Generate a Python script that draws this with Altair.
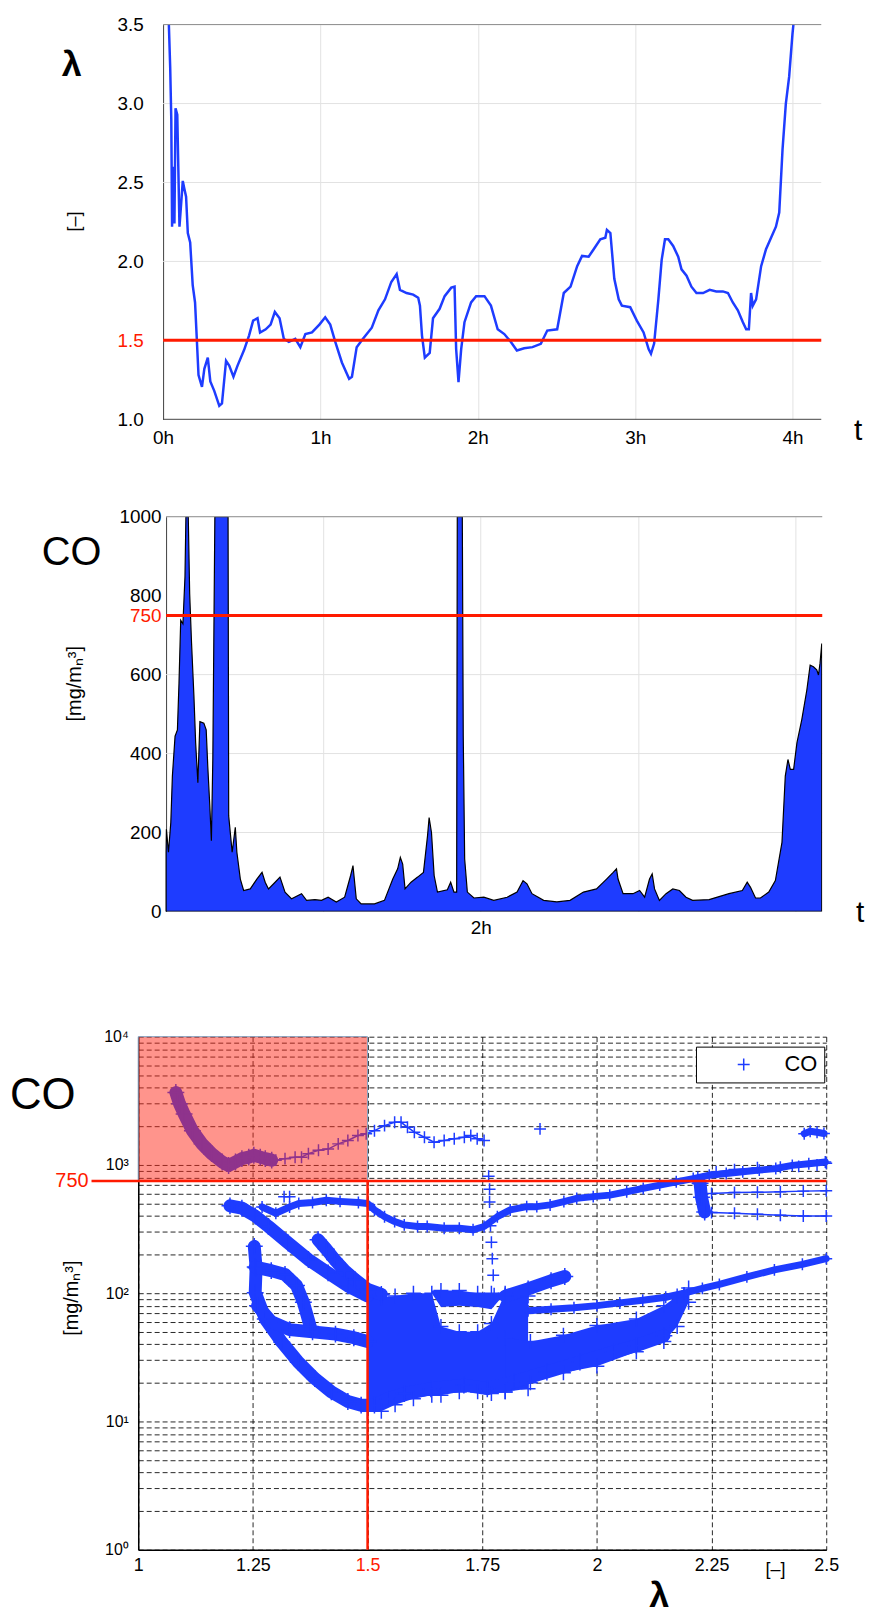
import altair as alt
import pandas as pd

FONT = "Liberation Sans Narrow, Liberation Sans, Arial, sans-serif"
BLUE = "#1e3cff"
RED = "#ff1a00"
GRIDGREY = "#e2e2e2"
PLUS = "M-1,0L1,0M0,-1L0,1"

# ---------------- Panel 1: lambda over time ----------------
T_LAMBDA = [0.035, 0.045, 0.052, 0.057, 0.065, 0.072, 0.079, 0.09, 0.104, 0.115, 0.125, 0.135, 0.146, 0.157,
            0.172, 0.188, 0.203, 0.214, 0.225, 0.247, 0.262, 0.284, 0.30, 0.325, 0.357, 0.374, 0.40, 0.42,
            0.447, 0.473, 0.515, 0.546, 0.572, 0.60, 0.616, 0.652, 0.683, 0.71, 0.74, 0.767, 0.799, 0.84,
            0.872, 0.904, 0.946, 0.993, 1.03, 1.062, 1.094, 1.136, 1.182, 1.20, 1.23, 1.27, 1.326, 1.368,
            1.41, 1.45, 1.484, 1.505, 1.547, 1.589, 1.621, 1.632, 1.645, 1.663, 1.694, 1.715, 1.757, 1.789,
            1.831, 1.852, 1.862, 1.877, 1.894, 1.915, 1.957, 1.989, 2.042, 2.083, 2.126, 2.168, 2.21, 2.248,
            2.294, 2.347, 2.40, 2.441, 2.504, 2.546, 2.589, 2.631, 2.662, 2.704, 2.736, 2.778, 2.81, 2.82,
            2.842, 2.867, 2.895, 2.915, 2.968, 3.01, 3.053, 3.085, 3.10, 3.12, 3.147, 3.168, 3.189, 3.21,
            3.241, 3.273, 3.294, 3.326, 3.357, 3.389, 3.431, 3.473, 3.515, 3.557, 3.589, 3.62, 3.652, 3.684,
            3.705, 3.722, 3.736, 3.747, 3.768, 3.80, 3.831, 3.863, 3.894, 3.915, 3.936, 3.957, 3.978, 3.999,
            4.01]
LAMBDA = [3.55, 3.23, 2.9, 2.22, 2.6, 2.24, 2.97, 2.93, 2.22, 2.37, 2.51, 2.46, 2.41, 2.18,
          2.12, 1.85, 1.74, 1.51, 1.28, 1.205, 1.32, 1.39, 1.24, 1.18, 1.085, 1.10, 1.37, 1.34,
          1.27, 1.34, 1.44, 1.53, 1.625, 1.64, 1.55, 1.57, 1.60, 1.68, 1.64, 1.51, 1.49, 1.51,
          1.457, 1.54, 1.55, 1.60, 1.646, 1.60, 1.49, 1.36, 1.257, 1.27, 1.457, 1.51, 1.58, 1.69,
          1.76, 1.87, 1.92, 1.82, 1.80, 1.79, 1.77, 1.72, 1.53, 1.39, 1.42, 1.64, 1.70, 1.78,
          1.834, 1.84, 1.445, 1.236, 1.445, 1.615, 1.74, 1.78, 1.78, 1.72, 1.57, 1.54, 1.49, 1.436,
          1.45, 1.457, 1.478, 1.562, 1.57, 1.80, 1.84, 1.97, 2.035, 2.03, 2.077, 2.14, 2.15, 2.20,
          2.18, 1.89, 1.76, 1.72, 1.71, 1.625, 1.55, 1.445, 1.415, 1.48, 1.76, 2.01, 2.14, 2.14,
          2.098, 2.03, 1.95, 1.91, 1.84, 1.80, 1.80, 1.82, 1.81, 1.81, 1.80, 1.74, 1.69, 1.615,
          1.57, 1.57, 1.80, 1.72, 1.76, 1.97, 2.077, 2.15, 2.22, 2.31, 2.71, 3.0, 3.17, 3.44,
          3.55]
LAMBDA_LIMIT = [1.5]
LAMBDA_TICKS = [1.0, 1.5, 2.0, 2.5, 3.0, 3.5]
LAMBDA_RANGE = [1.0, 3.5]
HOUR_TICKS = [0, 1, 2, 3, 4]
T1_RANGE = [-0.158, 4.182]

# ---------------- Panel 2: CO over time ----------------
T_CO = [0.0, 0.002, 0.015, 0.03, 0.04, 0.057, 0.072, 0.082, 0.093, 0.107, 0.12, 0.126, 0.141, 0.15, 0.162,
        0.177, 0.188, 0.202, 0.215, 0.24, 0.255, 0.265, 0.278, 0.288, 0.297, 0.31, 0.394, 0.398, 0.42,
        0.44, 0.45, 0.472, 0.493, 0.535, 0.577, 0.61, 0.63, 0.651, 0.693, 0.724, 0.756, 0.798, 0.861,
        0.893, 0.946, 0.988, 1.03, 1.082, 1.135, 1.173, 1.188, 1.209, 1.24, 1.325, 1.388, 1.441, 1.472,
        1.489, 1.504, 1.519, 1.557, 1.599, 1.636, 1.662, 1.672, 1.687, 1.704, 1.725, 1.788, 1.809, 1.83,
        1.847, 1.851, 1.883, 1.889, 1.898, 1.915, 1.957, 2.02, 2.083, 2.168, 2.231, 2.269, 2.294, 2.326,
        2.4, 2.484, 2.568, 2.653, 2.736, 2.8, 2.842, 2.863, 2.873, 2.905, 2.968, 3.01, 3.042, 3.073,
        3.09, 3.105, 3.136, 3.178, 3.221, 3.263, 3.305, 3.347, 3.452, 3.578, 3.663, 3.694, 3.715, 3.747,
        3.778, 3.831, 3.873, 3.915, 3.936, 3.953, 3.968, 3.989, 4.01, 4.041, 4.073, 4.094, 4.115, 4.136,
        4.147, 4.157, 4.168]
CO_T = [150, 208, 150, 225, 343, 444, 460, 578, 738, 729, 847, 1000, 1000, 805, 679,
        545, 427, 326, 481, 477, 460, 368, 267, 179, 385, 1000, 1000, 242, 150,
        213, 150, 82, 53, 57, 82, 99, 74, 57, 74, 87, 49, 32, 45,
        28, 30, 28, 36, 24, 36, 91, 116, 32, 19, 19, 28, 82, 108,
        137, 120, 57, 74, 87, 99, 192, 238, 200, 91, 49, 55, 74, 49,
        49, 1000, 1000, 444, 133, 49, 34, 36, 28, 36, 49, 78, 70, 45,
        28, 24, 28, 49, 57, 82, 99, 108, 82, 45, 45, 53, 36, 82,
        95, 57, 28, 45, 57, 53, 36, 28, 30, 45, 53, 74, 61, 34,
        34, 49, 78, 175, 343, 385, 360, 360, 427, 486, 561, 624, 620, 612,
        599, 629, 679]
CO_LIMIT = [750]
CO_TICKS = [0, 200, 400, 600, 750, 800, 1000]
CO_GRID = [200, 400, 600]
CO_RANGE = [0, 1000]
T2_RANGE = [-0.177, 4.171]

# ---------------- Panel 3: CO vs lambda (bands of + markers) ----------------
PURPLE_BAND = [(1.082, 3670), (1.09, 3000), (1.10, 2500), (1.118, 1850), (1.139, 1460), (1.16, 1225),
               (1.183, 1055), (1.197, 990), (1.212, 1055), (1.226, 1120), (1.241, 1150), (1.252, 1190),
               (1.266, 1150), (1.277, 1120), (1.291, 1090)]
LEFT_DIAG = [(1.20, 480), (1.226, 460), (1.255, 400), (1.284, 331), (1.327, 246), (1.371, 183),
             (1.414, 144), (1.457, 114), (1.50, 95)]
SECOND_DIAG = [(1.392, 261), (1.41, 220), (1.428, 183), (1.45, 150), (1.472, 128), (1.50, 107), (1.53, 98)]
OUTER_LOOP = [(1.253, 232), (1.257, 158), (1.255, 101), (1.277, 63), (1.313, 41.5), (1.349, 29),
              (1.385, 21.6), (1.421, 17), (1.457, 14.3), (1.486, 13.4), (1.515, 13.4), (1.544, 15),
              (1.58, 16.5), (1.638, 18), (1.71, 19.2), (1.761, 18), (1.819, 20.4), (1.891, 24.3),
              (1.963, 29), (2.035, 34.7), (2.086, 39), (2.146, 46.5)]
INNER_LOOP = [(1.26, 80), (1.29, 60), (1.33, 52), (1.38, 50), (1.43, 48), (1.47, 45), (1.50, 42)]
LOOP_TOP = [(1.255, 160), (1.29, 150), (1.32, 140), (1.345, 115), (1.36, 85), (1.375, 55)]
ARM = [(1.80, 95), (1.85, 108), (1.90, 125), (1.93, 135)]
RIGHT_CLUSTER = [(2.225, 720), (2.228, 560), (2.235, 430)]

MID_ROW = [(1.27, 470), (1.30, 420), (1.33, 470), (1.35, 500), (1.38, 510), (1.41, 530), (1.44, 520),
           (1.48, 510), (1.50, 500), (1.515, 446), (1.537, 395), (1.559, 362), (1.58, 341), (1.609, 331),
           (1.63, 331), (1.667, 321), (1.70, 321), (1.73, 312), (1.754, 331), (1.783, 395), (1.811, 446),
           (1.847, 473), (1.869, 473), (1.898, 488), (1.928, 518), (1.956, 549), (1.992, 566), (2.028, 582),
           (2.065, 618), (2.101, 656), (2.137, 697), (2.173, 739), (2.21, 783), (2.245, 832), (2.282, 857),
           (2.318, 883), (2.354, 911), (2.39, 938), (2.426, 993), (2.462, 1023), (2.498, 1055)]
FLAT_ROW = [(1.85, 73), (1.90, 75), (1.95, 77), (2.00, 80), (2.05, 84), (2.10, 88), (2.15, 93), (2.19, 100)]
RISING_ROW = [(2.19, 100), (2.23, 109), (2.267, 117), (2.327, 134), (2.387, 152), (2.448, 168), (2.5, 186)]
TOP_RIGHT_CLUSTER = [(2.452, 1750), (2.465, 1830), (2.48, 1800), (2.495, 1760)]

UPPER_ROW = [(1.30, 1090), (1.32, 1120), (1.342, 1150), (1.356, 1150), (1.371, 1225), (1.393, 1300),
             (1.414, 1330), (1.436, 1460), (1.457, 1550), (1.479, 1695), (1.497, 1750), (1.515, 1850),
             (1.537, 2025), (1.559, 2150), (1.573, 2150), (1.587, 1970), (1.602, 1800), (1.624, 1645),
             (1.645, 1505), (1.667, 1550), (1.689, 1600), (1.711, 1645), (1.725, 1695), (1.739, 1600),
             (1.754, 1550)]
BRANCH_HIGH = [(2.25, 600), (2.30, 610), (2.35, 612), (2.40, 618), (2.45, 625), (2.5, 630)]
BRANCH_LOW = [(2.25, 425), (2.30, 420), (2.35, 412), (2.40, 405), (2.45, 400), (2.5, 400)]
TOP_RIGHT_ROW = [(2.22, 800), (2.26, 880), (2.30, 920), (2.35, 950), (2.40, 960), (2.44, 975),
                 (2.48, 1000), (2.5, 1030)]
STRAY = [(1.876, 1910), (1.318, 566), (1.33, 566), (1.764, 818), (1.766, 646), (1.766, 515),
         (1.768, 336), (1.770, 250), (1.772, 186), (1.774, 138), (1.776, 99)]

BLOB_LAM = [1.50, 1.53, 1.56, 1.60, 1.64, 1.66, 1.70, 1.74, 1.77, 1.80, 1.85]
BLOB_LOW = [12, 12, 13.5, 15, 16, 16, 17, 17, 16.5, 17, 18]
BLOB_HIGH = [100, 92, 95, 100, 100, 55, 50, 50, 58, 100, 95]
CAP_LAM = [1.64, 1.66, 1.70, 1.74, 1.77, 1.80]
CAP_LOW = [100, 78, 80, 78, 75, 100]
CAP_HIGH = [105, 105, 105, 100, 100, 100]
LR_LAM = [1.80, 1.855, 1.927, 2.00, 2.086, 2.146, 2.175, 2.20]
LR_LOW = [17, 20, 24, 27, 35, 42, 55, 85]
LR_HIGH = [45, 42, 47, 56, 63, 80, 95, 110]

LAM3_RANGE = [1.0, 2.5]
LAM3_TICKS = [1.0, 1.25, 1.5, 1.75, 2.0, 2.25, 2.5]
CO3_RANGE = [1, 10000]
CO3_TICKS = [m * 10 ** k for k in range(4) for m in range(1, 10)] + [10000]
LIMIT_LAM = [1.5]
LIMIT_CO = [750]

# ---------------- helpers ----------------
ONE = pd.DataFrame({"k": [0]})


def txt(text, x, y, size, bold=False, color="black", angle=0, align="center"):
    return alt.Chart(ONE).mark_text(
        text=text, fontSize=size, font=FONT, fontWeight="bold" if bold else "normal",
        color=color, angle=angle, align=align, baseline="middle"
    ).encode(x=alt.value(x), y=alt.value(y))


def bands(named):
    rows = []
    for name, pts in named.items():
        for i, (lam, co) in enumerate(pts):
            rows.append({"band": name, "i": i, "lam": lam, "co": co, "series": "CO"})
    return pd.DataFrame(rows)


def red_label(v):
    return {"condition": {"test": f"datum.value == {v}", "value": RED}, "value": "black"}


# ---------------- Panel 1 ----------------
W1, H1, OFF1 = 687, 397, 25
df1 = pd.DataFrame({"t": T_LAMBDA, "lam": LAMBDA})
X1 = alt.X("t:Q", scale=alt.Scale(domain=T1_RANGE, nice=False, zero=False),
           axis=alt.Axis(values=HOUR_TICKS, labelExpr="datum.value + 'h'", title=None, grid=True,
                         gridColor=GRIDGREY, ticks=False, tickSize=0, domain=False,
                         labelFontSize=19, labelFont=FONT, labelPadding=9, labelFlush=False))
Y1 = alt.Y("lam:Q", scale=alt.Scale(domain=LAMBDA_RANGE, nice=False, zero=False),
           axis=alt.Axis(values=LAMBDA_TICKS, format=".1f", title=None, grid=False, offset=-OFF1,
                         ticks=False, tickSize=0, domainColor="#444", labelFontSize=19, labelFont=FONT,
                         labelPadding=20, labelFlush=False, labelColor=red_label(1.5)))
p1 = alt.layer(
    alt.Chart(pd.DataFrame({"lam": LAMBDA_TICKS[1:-1]})).mark_rule(color=GRIDGREY).encode(
        y=Y1, x=alt.value(OFF1), x2=alt.value(W1)),
    alt.Chart(df1).mark_line(color=BLUE, strokeWidth=2.5, clip=True).encode(x=X1, y=Y1),
    alt.Chart(pd.DataFrame({"lam": LAMBDA_LIMIT})).mark_rule(color=RED, strokeWidth=3).encode(
        y=Y1, x=alt.value(OFF1), x2=alt.value(W1)),
    alt.Chart(pd.DataFrame({"lam": [LAMBDA_RANGE[1]]})).mark_rule(color="#888", strokeWidth=1).encode(
        y=Y1, x=alt.value(OFF1), x2=alt.value(W1)),
    alt.Chart(pd.DataFrame({"lam": [LAMBDA_RANGE[0]]})).mark_rule(color="#444", strokeWidth=1).encode(
        y=Y1, x=alt.value(OFF1), x2=alt.value(W1)),
    txt("λ", -67, 41, 36, bold=True),
    txt("[–]", -64, 198, 18, angle=270),
    txt("t", 724, H1 + 12, 30),
).properties(width=W1, height=H1)

# ---------------- Panel 2 ----------------
W2, H2, OFF2 = 688, 397, 28
df2 = pd.DataFrame({"t": T_CO, "co": CO_T})
X2 = alt.X("t:Q", scale=alt.Scale(domain=T2_RANGE, nice=False, zero=False),
           axis=alt.Axis(values=HOUR_TICKS, labelExpr="datum.value == 2 ? '2h' : ''", title=None, grid=True,
                         gridColor=GRIDGREY, ticks=False, tickSize=0, domain=False,
                         labelFontSize=19, labelFont=FONT, labelPadding=7, labelFlush=False))
Y2 = alt.Y("co:Q", scale=alt.Scale(domain=CO_RANGE, nice=False, zero=False),
           axis=alt.Axis(values=CO_TICKS, format="d", title=None, grid=False, offset=-OFF2, ticks=False,
                         tickSize=0, domainColor="#444", labelFontSize=19, labelFont=FONT, labelPadding=5,
                         labelFlush=False, labelOverlap=False, labelColor=red_label(750)))
p2 = alt.layer(
    alt.Chart(pd.DataFrame({"co": CO_GRID})).mark_rule(color=GRIDGREY).encode(
        y=Y2, x=alt.value(OFF2), x2=alt.value(W2)),
    alt.Chart(df2).mark_area(color=BLUE, stroke="black", strokeWidth=1.2, clip=True).encode(x=X2, y=Y2),
    alt.Chart(pd.DataFrame({"co": CO_LIMIT})).mark_rule(color=RED, strokeWidth=3).encode(
        y=Y2, x=alt.value(OFF2), x2=alt.value(W2)),
    alt.Chart(pd.DataFrame({"co": [CO_RANGE[1]]})).mark_rule(color="#888", strokeWidth=1).encode(
        y=Y2, x=alt.value(OFF2), x2=alt.value(W2)),
    txt("CO", -67, 37, 40),
    txt("[mg/mₙ³]", -64, 168, 20, angle=270),
    txt("t", 726, H2 + 2, 30),
).properties(width=W2, height=H2)

# ---------------- Panel 3 ----------------
W3, H3 = 692, 516
GAP1, GAP2 = 98, 126
P3_TOP = H1 + GAP1 + H2 + GAP2
Y_LABELS = ("datum.value == 1 ? '10⁰' : datum.value == 10 ? '10¹' : datum.value == 100 ? '10²' : "
            "datum.value == 1000 ? '10³' : datum.value == 10000 ? '10⁴' : ''")
X3 = alt.X("lam:Q", scale=alt.Scale(domain=LAM3_RANGE, nice=False, zero=False),
           axis=alt.Axis(values=LAM3_TICKS, labelExpr="toString(datum.value)", title=None, grid=True,
                         gridColor="black", gridDash=[5, 3], gridWidth=1, gridOpacity=0.85, ticks=False,
                         tickSize=0, domainColor="black", domainWidth=1.5, labelFontSize=18, labelFont=FONT,
                         labelPadding=7, labelFlush=False, labelColor=red_label(1.5)))


def Y3(field):
    return alt.Y(field, scale=alt.Scale(type="log", domain=CO3_RANGE, nice=False),
                 axis=alt.Axis(values=CO3_TICKS, labelExpr=Y_LABELS, title=None, grid=True, gridColor="black",
                               gridDash=[5, 3], gridWidth=1, gridOpacity=0.85, ticks=False, tickSize=0,
                               domainColor="black", domainWidth=1.5, labelFontSize=16, labelFont=FONT,
                               labelPadding=10, labelOverlap=False, labelFlush=False))


thick = bands({"purple": PURPLE_BAND, "d1": LEFT_DIAG, "d2": SECOND_DIAG, "outer": OUTER_LOOP,
               "inner": INNER_LOOP, "looptop": LOOP_TOP, "arm": ARM, "rc": RIGHT_CLUSTER})
medium = bands({"mid": MID_ROW, "flat": FLAT_ROW, "rise": RISING_ROW, "trc": TOP_RIGHT_CLUSTER})
thin = bands({"upper": UPPER_ROW, "bh": BRANCH_HIGH, "bl": BRANCH_LOW, "trr": TOP_RIGHT_ROW})
stray = bands({"stray": STRAY})
allpts = pd.concat([thick, medium, thin, stray], ignore_index=True)

blob = pd.DataFrame({"lam": BLOB_LAM, "lo": BLOB_LOW, "hi": BLOB_HIGH})
cap = pd.DataFrame({"lam": CAP_LAM, "lo": CAP_LOW, "hi": CAP_HIGH})
lr = pd.DataFrame({"lam": LR_LAM, "lo": LR_LOW, "hi": LR_HIGH})
edges = pd.DataFrame({
    "lam": BLOB_LAM + BLOB_LAM + LR_LAM + LR_LAM + CAP_LAM[1:-1],
    "co": BLOB_LOW + BLOB_HIGH + LR_LOW + LR_HIGH + CAP_HIGH[1:-1],
})

region = pd.DataFrame({"lam": [LAM3_RANGE[0]], "lam2": LIMIT_LAM, "co": LIMIT_CO, "co2": [CO3_RANGE[1]]})
vline = pd.DataFrame({"lam": LIMIT_LAM, "co": LIMIT_CO, "co2": [CO3_RANGE[0]]})
hline = pd.DataFrame({"co": LIMIT_CO})


def area_layer(df):
    return alt.Chart(df).mark_area(color=BLUE).encode(x=X3, y=Y3("lo:Q"), y2="hi:Q")


legend = alt.Legend(title=None, orient="none", legendX=561, legendY=P3_TOP + 10, padding=7,
                    strokeColor="black", fillColor="white", symbolType=PLUS, symbolSize=144,
                    symbolStrokeWidth=1.5, symbolStrokeColor=BLUE, labelFontSize=22, labelFont=FONT,
                    labelOffset=30, symbolOffset=30)

p3 = alt.layer(
    area_layer(blob), area_layer(cap), area_layer(lr),
    alt.Chart(thick).mark_line(color=BLUE, strokeWidth=13, strokeCap="round", strokeJoin="round").encode(
        x=X3, y=Y3("co:Q"), detail="band:N", order="i:Q"),
    alt.Chart(medium).mark_line(color=BLUE, strokeWidth=7, strokeCap="round", strokeJoin="round").encode(
        x=X3, y=Y3("co:Q"), detail="band:N", order="i:Q"),
    alt.Chart(thin).mark_line(color=BLUE, strokeWidth=1.5).encode(
        x=X3, y=Y3("co:Q"), detail="band:N", order="i:Q"),
    alt.Chart(thick).mark_point(shape=PLUS, filled=False, size=289, strokeWidth=1.5, color=BLUE, opacity=1).encode(
        x=X3, y=Y3("co:Q")),
    alt.Chart(edges).mark_point(shape=PLUS, filled=False, size=225, strokeWidth=1.5, color=BLUE, opacity=1).encode(
        x=X3, y=Y3("co:Q")),
    alt.Chart(allpts).mark_point(shape=PLUS, filled=False, size=144, strokeWidth=1.5, opacity=1).encode(
        x=X3, y=Y3("co:Q"),
        color=alt.Color("series:N", scale=alt.Scale(domain=["CO"], range=[BLUE]), legend=legend)),
    alt.Chart(region).mark_rect(fill="#ff2a1a", fillOpacity=0.5, stroke="#7f9fbf", strokeWidth=1).encode(
        x=X3, x2="lam2:Q", y=Y3("co:Q"), y2="co2:Q"),
    alt.Chart(hline).mark_rule(color=RED, strokeWidth=2.5).encode(
        y=Y3("co:Q"), x=alt.value(-47), x2=alt.value(W3)),
    alt.Chart(vline).mark_rule(color=RED, strokeWidth=2.5).encode(x=X3, y=Y3("co:Q"), y2="co2:Q"),
    alt.Chart(hline).mark_text(text="750", color=RED, fontSize=20, font=FONT, align="right",
                               baseline="middle").encode(y=Y3("co:Q"), x=alt.value(-50)),
    txt("CO", -96, 60, 44),
    txt("[mg/mₙ³]", -67, 263, 20, angle=270),
    txt("[–]", 641, H3 + 20, 18),
    txt("λ", 524, H3 + 47, 36, bold=True),
).properties(width=W3, height=H3)


def spacer(h):
    return alt.Chart(ONE).mark_point(opacity=0).encode(x=alt.value(0), y=alt.value(0)).properties(width=10, height=h)


chart = alt.vconcat(p1, spacer(GAP1), p2, spacer(GAP2), p3, spacing=0, bounds="flush").properties(
    padding={"left": 2, "top": 3, "right": 0, "bottom": 0}, background="white"
).configure_view(stroke=None)

chart.save("out.html", embed_options={"renderer": "svg", "actions": False})
